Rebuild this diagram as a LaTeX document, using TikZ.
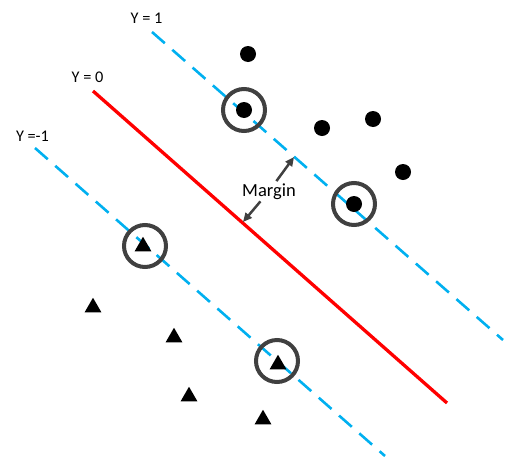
\documentclass[tikz,border=0pt]{standalone}
\usepackage{fontspec}
\setmainfont{Carlito}
\usetikzlibrary{shapes.geometric,arrows.meta}
\definecolor{hblue}{HTML}{00B0F0}
\definecolor{ring}{HTML}{404040}
\tikzset{
  hyper/.style={hblue, line width=2.6pt, dash pattern=on 17pt off 10pt},
  sep/.style={red, line width=3.3pt},
  dot/.style={circle, fill=black, inner sep=0pt, minimum size=16pt},
  tri/.style={regular polygon, regular polygon sides=3, fill=black, inner sep=0pt, minimum size=19.5pt},
  sv/.style={circle, draw=ring, line width=4pt, inner sep=0pt, minimum size=42pt},
  ylab/.style={anchor=base, inner sep=0pt, font=\fontsize{16.3}{19}\selectfont},
  marg/.style={ring, line width=2.5pt, -{Triangle[length=9pt,width=8pt]}}
}
\begin{document}
\begin{tikzpicture}[x=1pt,y=-1pt]
\useasboundingbox (0,0) rectangle (505,458);
% lines
\coordinate (a1) at (152,32); \coordinate (b1) at (503,340);
\coordinate (a0) at (93,91);  \coordinate (b0) at (447,403);
\coordinate (am) at (35,148); \coordinate (bm) at (385,456);
\draw[hyper] (a1) -- (b1);
\draw[sep] (a0) -- (b0);
\draw[hyper] (am) -- (bm);
% labels
\node[ylab] (l1) at (146.5,23.3) {Y = 1};
\node[ylab] (l0) at (87.5,82) {Y = 0};
\node[ylab] (lm) at (32.5,141.7) {Y =-1};
% dots
\node[dot] (d1) at (248,54) {};
\node[dot] (d2) at (244,110) {};
\node[dot] (d3) at (322,128) {};
\node[dot] (d4) at (373,119) {};
\node[dot] (d5) at (403,172) {};
\node[dot] (d6) at (354,204) {};
% triangles
\node[tri] (t1) at (143,246.5) {};
\node[tri] (t2) at (93,307.5) {};
\node[tri] (t3) at (174,337.5) {};
\node[tri] (t4) at (189,396.5) {};
\node[tri] (t5) at (278,364.5) {};
\node[tri] (t6) at (263,419.5) {};
% support vectors
\node[sv] (s1) at (244,110) {};
\node[sv] (s2) at (354,204) {};
\node[sv] (s3) at (145,246) {};
\node[sv] (s4) at (277,361) {};
% margin
\node[anchor=base, inner sep=2pt, font=\fontsize{18.5}{22}\selectfont] (m) at (269,196) {Margin};
\coordinate (mt) at (294,157);
\coordinate (mb) at (243,222);
\draw[marg] (m) -- (mt);
\draw[marg] (m) -- (mb);
\end{tikzpicture}
\end{document}
